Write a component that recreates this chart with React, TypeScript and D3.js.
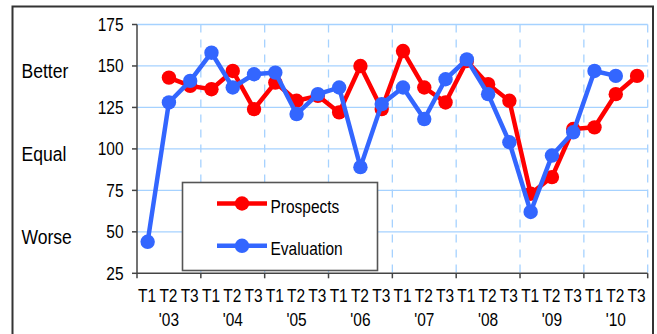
import React from "react";
import * as d3 from "d3";

const periods = ["T1", "T2", "T3"];
const years = ["'03", "'04", "'05", "'06", "'07", "'08", "'09", "'10"];
const prospects: (number | null)[] = [null, 143, 138, 136, 147, 124, 140, 129, 132, 122, 150, 124, 159, 137, 128, 153, 139, 129, 73, 83, 112, 113, 133, 144];
const evaluation: (number | null)[] = [44, 128, 141, 158, 137, 145, 146, 121, 133, 137, 89, 127, 137, 118, 142, 154, 133, 104, 62, 96, 110, 147, 144, null];
const yTicks = [25, 50, 75, 100, 125, 150, 175];
const sideLabels = [
  { text: "Better", value: 150 },
  { text: "Equal", value: 100 },
  { text: "Worse", value: 50 },
];
const seriesList = [
  { name: "Prospects", values: prospects, color: "#FF0000" },
  { name: "Evaluation", values: evaluation, color: "#3366FF" },
];

const W = 657;
const H = 334;
const FONT = "'Liberation Sans', Arial, sans-serif";
const SX = 0.86;

function T(props: { x: number; y: number; anchor?: string; size?: number; sx?: number; children: React.ReactNode }) {
  const { x, y, anchor = "start", size = 18, sx = SX, children } = props;
  return (
    <text
      transform={`translate(${x},${y}) scale(${sx},1)`}
      textAnchor={anchor}
      fontFamily={FONT}
      fontSize={size}
      fill="#000"
    >
      {children}
    </text>
  );
}

export default function App() {
  const categories: string[] = [];
  years.forEach((yr) => periods.forEach((p) => categories.push(yr + p)));

  const left = 137;
  const right = 647.7;
  const top = 24.5;
  const bottom = 273.3;

  const x = d3.scaleBand<string>().domain(categories).range([left, right]).padding(0);
  const y = d3.scaleLinear().domain([25, 175]).range([bottom, top]);
  const cx = (i: number) => (x(categories[i]) as number) + x.bandwidth() / 2;
  const yearWidth = x.bandwidth() * 3;

  const line = d3
    .line<number | null>()
    .defined((d) => d !== null)
    .x((_, i) => cx(i))
    .y((d) => y(d as number));

  const yearBounds = d3.range(years.length + 1).map((k) => left + k * yearWidth);

  return (
    <svg width={W} height={H} style={{ position: "absolute", left: 0, top: 0, background: "#fff" }}>
      {/* outer frame */}
      <rect x={12.5} y={6.5} width={640.5} height={340} fill="#fff" stroke="#333" strokeWidth={2} />

      {/* horizontal grid */}
      {yTicks.filter((t) => t !== 25).map((t) => (
        <line key={"h" + t} x1={left} x2={right} y1={y(t)} y2={y(t)} stroke="#A6D2FF" strokeWidth={1.3} />
      ))}
      {/* vertical dashed grid */}
      {yearBounds.slice(1).map((bx, k) => (
        <line key={"v" + k} x1={bx} x2={bx} y1={top} y2={bottom} stroke="#A6D2FF" strokeWidth={1.3} strokeDasharray="8,7" />
      ))}

      {/* axes */}
      <line x1={left} x2={left} y1={top} y2={bottom} stroke="#444" strokeWidth={1.5} />
      <line x1={left} x2={right} y1={bottom} y2={bottom} stroke="#444" strokeWidth={1.5} />
      {yTicks.map((t) => (
        <line key={"yt" + t} x1={left - 5} x2={left} y1={y(t)} y2={y(t)} stroke="#444" strokeWidth={1.5} />
      ))}
      {yearBounds.map((bx, k) => (
        <line key={"xt" + k} x1={bx} x2={bx} y1={bottom} y2={bottom + 5} stroke="#444" strokeWidth={1.5} />
      ))}

      {/* y tick labels */}
      {yTicks.map((t) => (
        <T key={"yl" + t} x={123.5} y={y(t) + 6.3} anchor="end">
          {t}
        </T>
      ))}

      {/* side labels */}
      {sideLabels.map((s) => (
        <T key={s.text} x={21.5} y={y(s.value) + 12.5} size={19.5} sx={0.9}>
          {s.text}
        </T>
      ))}

      {/* x labels */}
      {categories.map((c, i) => (
        <T key={"xl" + c} x={cx(i) - 0.5} y={301.8} anchor="middle">
          {periods[i % 3]}
        </T>
      ))}
      {years.map((yr, k) => (
        <T key={"yr" + yr} x={cx(k * 3 + 1)} y={325.5} anchor="middle">
          {yr}
        </T>
      ))}

      {/* series */}
      {seriesList.map((s) => (
        <g key={s.name}>
          <path d={line(s.values) || ""} fill="none" stroke={s.color} strokeWidth={4.5} strokeLinejoin="round" />
          {s.values.map((v, i) =>
            v === null ? null : <circle key={i} cx={cx(i)} cy={y(v)} r={7.2} fill={s.color} />
          )}
        </g>
      ))}

      {/* legend */}
      <rect x={182.5} y={182.5} width={195} height={88} fill="#fff" stroke="#555" strokeWidth={1.6} />
      {seriesList.map((s, k) => {
        const ly = 203.5 + k * 42.3;
        return (
          <g key={"lg" + s.name}>
            <line x1={217} x2={267} y1={ly} y2={ly} stroke={s.color} strokeWidth={4.5} />
            <circle cx={242} cy={ly} r={7.2} fill={s.color} />
            <T x={270.5} y={ly + 9.3}>{s.name}</T>
          </g>
        );
      })}
    </svg>
  );
}
